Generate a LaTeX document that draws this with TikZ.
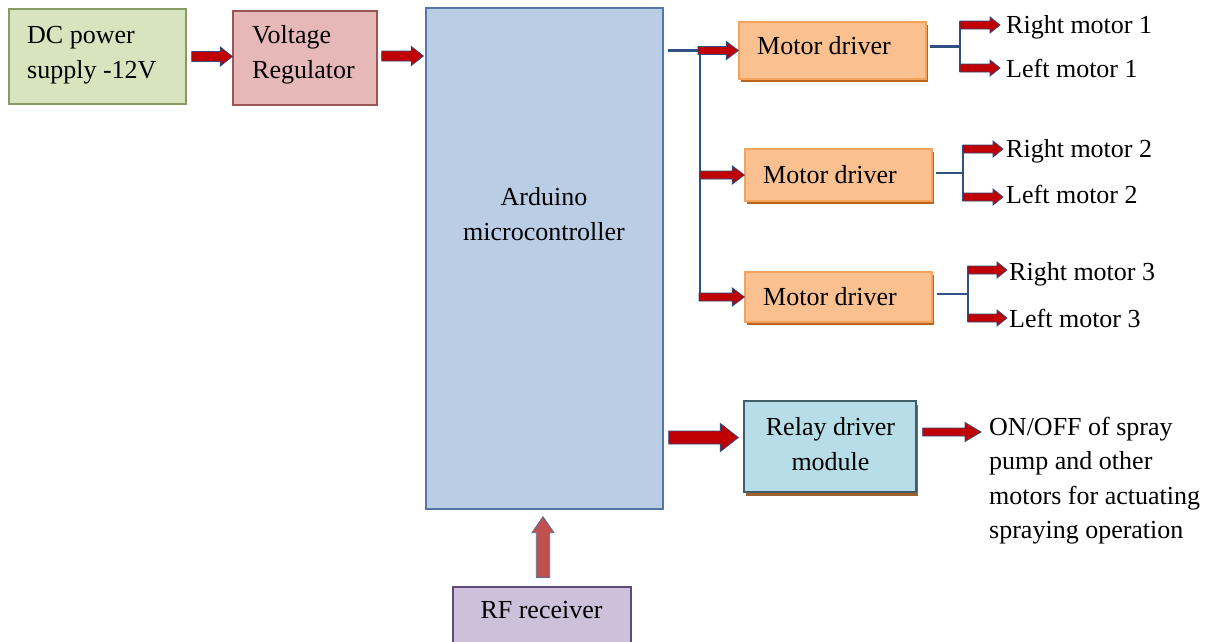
\documentclass[tikz,border=0pt]{standalone}
\usepackage{fontspec}
\setmainfont{Liberation Serif}
\usetikzlibrary{calc,shadows}
\definecolor{dcfill}{HTML}{D7E4BD}
\definecolor{dcedge}{HTML}{889A66}
\definecolor{vrfill}{HTML}{E6B9B8}
\definecolor{vredge}{HTML}{9B5554}
\definecolor{ardfill}{HTML}{B9CDE5}
\definecolor{ardedge}{HTML}{5577A8}
\definecolor{mdfill}{HTML}{FAC090}
\definecolor{mdedge}{HTML}{F5A25C}
\definecolor{mdshadow}{HTML}{B9651F}
\definecolor{relfill}{HTML}{B7DEE8}
\definecolor{reledge}{HTML}{3E5E68}
\definecolor{relshadow}{HTML}{A0622C}
\definecolor{rffill}{HTML}{CCC0DA}
\definecolor{rfedge}{HTML}{5F497A}
\definecolor{arrowred}{HTML}{C00000}
\definecolor{arrowedge}{HTML}{2E4B7C}
\definecolor{rfred}{HTML}{C0504D}
\definecolor{rfarrowedge}{HTML}{5A6F94}
\definecolor{linecol}{HTML}{2F5183}
\begin{document}
\begin{tikzpicture}[x=1pt,y=-1pt,
  box/.style={draw, line width=1.3pt, inner sep=0pt},
  txt/.style={font=\fontsize{26}{35}\selectfont, inner sep=0pt},
  conn/.style={draw=linecol, line width=2.6pt},
  redarrow/.style={fill=arrowred, draw=arrowedge, line width=0.8pt, line join=miter},
  rfarrow/.style={fill=rfred, draw=rfarrowedge, line width=0.8pt, line join=miter},
  mdbox/.style={box, draw=mdedge, fill=mdfill, minimum width=187pt,
    drop shadow={shadow xshift=2pt, shadow yshift=-3pt, fill=mdshadow, opacity=1}},
  barrow/.style n args={3}{to path={
    let \p1=(\tikztostart), \p2=(\tikztotarget),
        \n1={atan2(\y2-\y1,\x2-\x1)}, \n2={veclen(\x2-\x1,\y2-\y1)} in
    {[shift={(\p1)}, rotate=\n1]
      (0pt,#1) -- ({(\n2)*1pt-#3},#1) -- ({(\n2)*1pt-#3},#2) -- ({(\n2)*1pt},0pt)
      -- ({(\n2)*1pt-#3},-#2) -- ({(\n2)*1pt-#3},-#1) -- (0pt,-#1) -- cycle}
  }}
]
\path[use as bounding box, fill=white] (0,0) rectangle (1211,641);
\begin{scope}
\clip (0,0) rectangle (1211,641);

% boxes
\node[box, draw=dcedge, fill=dcfill, minimum width=177pt, minimum height=95pt] (dc) at (97.5,56.5) {};
\node[box, draw=vredge, fill=vrfill, minimum width=144pt, minimum height=94pt] (vr) at (305,58) {};
\node[box, draw=ardedge, fill=ardfill, minimum width=237pt, minimum height=501pt] (ard) at (544.5,258.5) {};
\node[mdbox, minimum height=57pt] (md1) at (832.5,50.5) {};
\node[mdbox, minimum height=52pt] (md2) at (838.5,175) {};
\node[mdbox, minimum height=50pt] (md3) at (838.5,297) {};
\node[box, draw=reledge, fill=relfill, minimum width=172pt, minimum height=91pt,
  drop shadow={shadow xshift=2pt, shadow yshift=-4pt, fill=relshadow, opacity=1}] (relay) at (830,446.5) {};
\node[box, draw=rfedge, fill=rffill, minimum width=178pt, minimum height=72pt] (rf) at (542,623) {};

% texts (base anchor of a multi-line node = baseline of its last line)
\node[txt, align=left, anchor=base west] (dct) at (27,78) {DC power\\supply -12V};
\node[txt, align=left, anchor=base west] (vrt) at (252,78) {Voltage\\Regulator};
\node[txt, align=center, anchor=base] (ardt) at (544,240) {Arduino\\microcontroller};
\node[txt, anchor=base west] (md1t) at (757,54) {Motor driver};
\node[txt, anchor=base west] (md2t) at (763,183) {Motor driver};
\node[txt, anchor=base west] (md3t) at (763,305) {Motor driver};
\node[txt, anchor=base west] (rm1) at (1006,33) {Right motor 1};
\node[txt, anchor=base west] (lm1) at (1006,77) {Left motor 1};
\node[txt, anchor=base west] (rm2) at (1006,157) {Right motor 2};
\node[txt, anchor=base west] (lm2) at (1006,203) {Left motor 2};
\node[txt, anchor=base west] (rm3) at (1009,280) {Right motor 3};
\node[txt, anchor=base west] (lm3) at (1009,327) {Left motor 3};
\node[txt, align=center, anchor=base] (relt) at (830.5,470) {Relay driver\\module};
\node[txt, font=\fontsize{26}{34.5}\selectfont, align=left, anchor=base west] (outt) at (989,538.5)
  {ON/OFF of spray\\pump and other\\motors for actuating\\spraying operation};
\node[txt, anchor=base] (rft) at (541.5,618) {RF receiver};

% branch coordinates
\coordinate (br) at (700,0);
\coordinate (r1) at (960,25);  \coordinate (l1) at (960,68);
\coordinate (r2) at (963,149); \coordinate (l2) at (963,197);
\coordinate (r3) at (968,270); \coordinate (l3) at (968,318);
\coordinate (m1) at ($(r1)!.5!(l1)$);
\coordinate (m2) at ($(r2)!.5!(l2)$);
\coordinate (m3) at ($(r3)!.5!(l3)$);

% blue connectors
\draw[conn] ($(ard.east |- md1.west)+(4,0)$) -- (br |- md1.west) -- (br |- md3.west);
\draw[conn] ($(md1.east |- m1)+(3,0)$) -- (m1);
\draw[conn] ($(md2.east |- m2)+(3,0)$) -- (m2);
\draw[conn] ($(md3.east |- m3)+(4,0)$) -- (m3);
\draw[conn] ($(r1)+(0,-4)$) -- ($(l1)+(0,4)$);
\draw[conn] ($(r2)+(0,-4)$) -- ($(l2)+(0,4)$);
\draw[conn] ($(r3)+(0,-4)$) -- ($(l3)+(0,4)$);

% red block arrows
\draw[redarrow] ($(dc.east)+(5,0)$) to[barrow={5pt}{9.5pt}{12pt}] (dc.east -| vr.west);
\draw[redarrow] ($(vr.east)+(4,-2)$) to[barrow={5pt}{9.5pt}{12pt}] ($(vr.east -| ard.west)+(-2,-2)$);
\draw[redarrow] ($(br |- md1.west)+(-2,0)$) to[barrow={4pt}{9pt}{12pt}] (md1.west);
\draw[redarrow] (br |- md2.west) to[barrow={4pt}{9pt}{12pt}] (md2.west);
\draw[redarrow] ($(br |- md3.west)+(-1,0)$) to[barrow={4pt}{9pt}{12pt}] (md3.west);
\draw[redarrow] (r1) to[barrow={4pt}{8pt}{10pt}] ($(r1 -| rm1.west)+(-6,0)$);
\draw[redarrow] (l1) to[barrow={4pt}{8pt}{10pt}] ($(l1 -| lm1.west)+(-6,0)$);
\draw[redarrow] (r2) to[barrow={4pt}{8pt}{10pt}] ($(r2 -| rm2.west)+(-3,0)$);
\draw[redarrow] (l2) to[barrow={4pt}{8pt}{10pt}] ($(l2 -| lm2.west)+(-3,0)$);
\draw[redarrow] (r3) to[barrow={4pt}{8pt}{10pt}] ($(r3 -| rm3.west)+(-2,0)$);
\draw[redarrow] (l3) to[barrow={4pt}{8pt}{10pt}] ($(l3 -| lm3.west)+(-2,0)$);
\draw[redarrow] ($(ard.east |- relay.west)+(5,-9)$) to[barrow={6.5pt}{14pt}{18pt}] ($(relay.west)+(-5,-9)$);
\draw[redarrow] ($(relay.east)+(6,-14.5)$) to[barrow={4pt}{9.5pt}{16pt}] ($(relay.east -| outt.west)+(-8,-14.5)$);
\draw[rfarrow] ($(rf.north)+(1,-9)$) to[barrow={6.7pt}{11pt}{16pt}] ($(ard.south)+(-1.5,7)$);
\end{scope}
\end{tikzpicture}
\end{document}
